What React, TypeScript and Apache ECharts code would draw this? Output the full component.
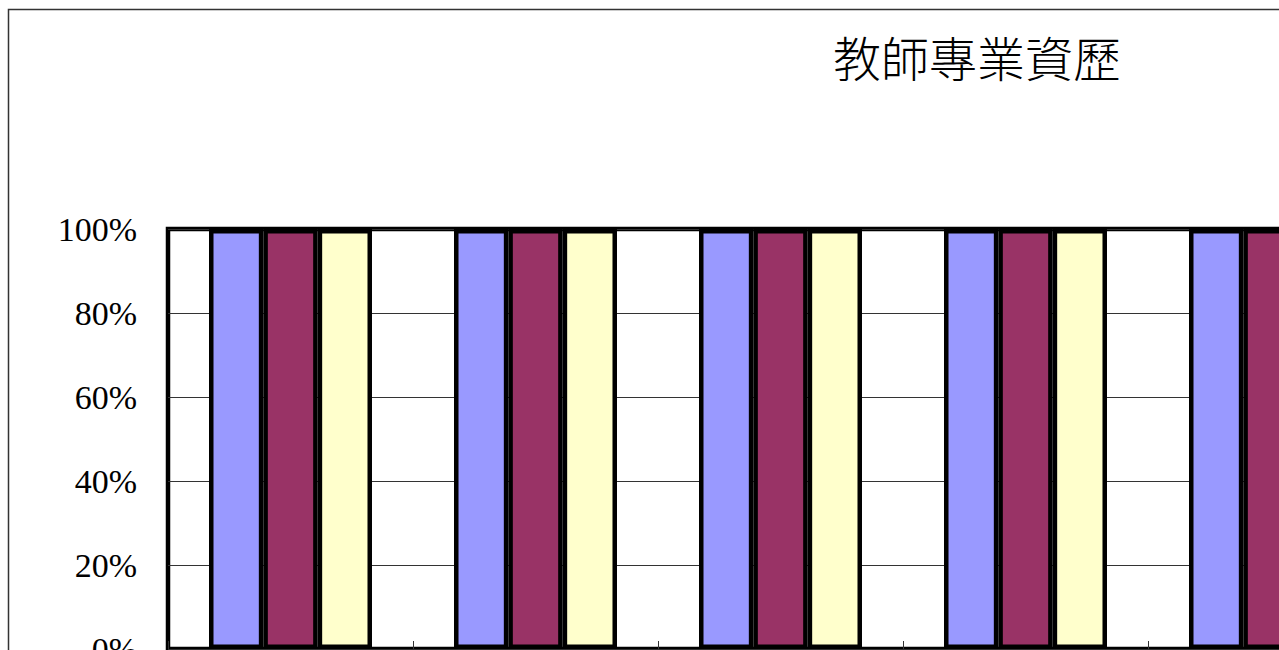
import React, { useEffect, useRef } from "react";
import * as echarts from "echarts";

const titleText = "教師專業資歷";
const categories = ["類別1", "類別2", "類別3", "類別4", "類別5", "類別6", "類別7"];
const seriesNames = ["數列1", "數列2", "數列3"];
const series1 = [100, 100, 100, 100, 100, 100, 100];
const series2 = [100, 100, 100, 100, 100, 100, 100];
const series3 = [100, 100, 100, 100, 100, 100, 100];
const yMin = 0;
const yMax = 100;
const yStep = 20;

const colors = ["#9999FF", "#993366", "#FFFFCC"];

export default function App() {
  const ref = useRef<HTMLDivElement>(null);
  useEffect(() => {
    if (!ref.current) return;
    const chart = echarts.init(ref.current, undefined, { renderer: "svg" });
    const values = [series1, series2, series3];
    chart.setOption({
      animation: false,
      backgroundColor: "#ffffff",
      title: {
        text: titleText,
        left: "center",
        top: 27,
        textStyle: {
          fontFamily: "'Noto Sans CJK TC', 'Noto Sans CJK SC', sans-serif",
          fontSize: 48,
          fontWeight: 300,
          color: "#000",
        },
      },
      graphic: [
        {
          type: "rect",
          shape: { x: 8.5, y: 9.5, width: 1937, height: 880 },
          style: { fill: "none", stroke: "#333", lineWidth: 1.5 },
          silent: true,
          z: -1,
        },
      ],
      grid: {
        left: 168,
        top: 229,
        width: 245 * categories.length,
        height: 420,
        show: true,
        borderColor: "#000",
        borderWidth: 4.5,
        backgroundColor: "transparent",
        containLabel: false,
      },
      xAxis: {
        type: "category",
        data: categories,
        boundaryGap: true,
        axisLine: { show: false },
        axisTick: { show: true, inside: true, length: 8, lineStyle: { color: "#333", width: 1 } },
        axisLabel: { show: false },
        splitLine: { show: false },
      },
      yAxis: {
        type: "value",
        min: yMin,
        max: yMax,
        interval: yStep,
        axisLine: { show: false },
        axisTick: { show: false },
        axisLabel: {
          formatter: "{value}%",
          margin: 31,
          fontFamily: "'Liberation Serif', 'Times New Roman', serif",
          fontSize: 34,
          color: "#000",
        },
        splitLine: { show: true, lineStyle: { color: "#333", width: 1 } },
      },
      series: seriesNames.map((name, i) => ({
        name,
        type: "bar",
        data: values[i],
        barWidth: 54.33,
        barGap: "0%",
        itemStyle: { color: colors[i], borderColor: "#000", borderWidth: 4.5 },
      })),
    });
    return () => chart.dispose();
  }, []);
  return (
    <div
      style={{
        position: "fixed",
        left: 0,
        top: 0,
        width: "100vw",
        height: "100vh",
        overflow: "hidden",
        background: "#fff",
      }}
    >
      <div ref={ref} style={{ position: "absolute", left: 0, top: 0, width: 1954, height: 900 }} />
    </div>
  );
}
